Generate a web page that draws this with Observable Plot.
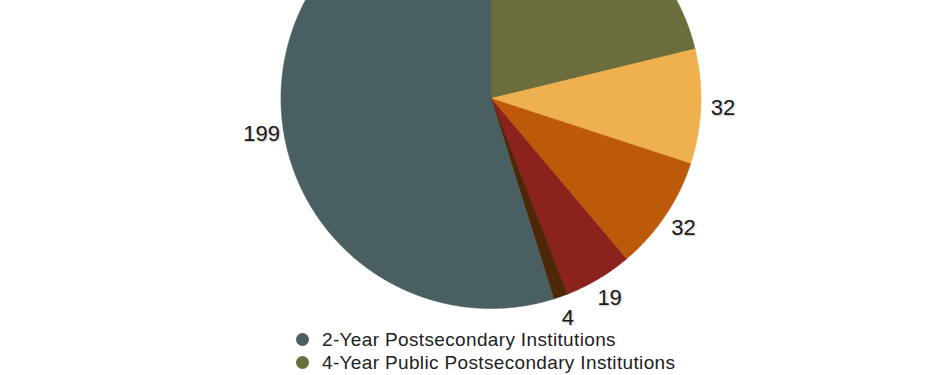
<!DOCTYPE html>
<html>
<head>
<meta charset="utf-8">
<script src="https://cdn.jsdelivr.net/npm/d3@7"></script>
<script src="https://cdn.jsdelivr.net/npm/@observablehq/plot@0.6"></script>
<style>
  html, body { margin: 0; padding: 0; background: #fff; }
  body { width: 930px; height: 375px; overflow: hidden; font-family: "Liberation Sans", Arial, Helvetica, sans-serif; }
  #chart svg { display: block; overflow: visible; }
  #chart svg text.lbl { text-shadow: 1px 1px 2px rgba(0,0,0,0.25); }
  #legend { margin-left: 296px; margin-top: -4px; position: relative; }
  .item { display: flex; align-items: center; height: 23px; font-size: 19px; letter-spacing: 0.35px; color: #222; }
  .dot { width: 13px; height: 13px; border-radius: 50%; margin-right: 13px; flex: none; }
</style>
</head>
<body>
<div id="chart"></div>
<div id="legend"></div>
<script>
// Data (clockwise from 12 o'clock)
const categories = [
  "4-Year Public Postsecondary Institutions",
  "4-Year Private Postsecondary Institutions",
  "Other Postsecondary Institutions",
  "Adult Education Providers",
  "Other Providers",
  "2-Year Postsecondary Institutions"
];
const values = [77, 32, 32, 19, 4, 199];
const colors = ["#6b6e3c", "#efb04e", "#bd5a0a", "#8b221c", "#4e2608", "#4a5f61"];
const legendOrder = [5, 0, 1, 2, 3, 4];

// Build slice polygons in unit-circle data space
const total = d3.sum(values);
let acc = 0;
const polys = [];
const labels = [];
values.forEach((v, i) => {
  const a0 = acc / total * 2 * Math.PI;
  acc += v;
  const a1 = acc / total * 2 * Math.PI;
  polys.push({cat: categories[i], color: colors[i], x: 0, y: 0});
  const n = Math.max(2, Math.ceil((a1 - a0) / (Math.PI / 360)));
  for (let k = 0; k <= n; k++) {
    const a = a0 + (a1 - a0) * k / n;
    polys.push({cat: categories[i], color: colors[i], x: Math.sin(a), y: Math.cos(a)});
  }
  const am = (a0 + a1) / 2, rl = 1.105;
  labels.push({x: rl * Math.sin(am), y: rl * Math.cos(am), v});
});

const chart = Plot.plot({
  width: 930,
  height: 332,
  margin: 0,
  x: {domain: [-1, 1], range: [280.5, 700.5], axis: null},
  y: {domain: [-1, 1], range: [308, -112], axis: null},
  color: {type: "identity"},
  style: {fontFamily: "'Liberation Sans', Arial, sans-serif", background: "#fff", overflow: "visible"},
  marks: [
    Plot.line(polys, {x: "x", y: "y", z: "cat", fill: "color", stroke: "color", strokeWidth: 0.6, curve: "linear-closed"}),
    Plot.text(labels, {x: "x", y: "y", text: "v", fontSize: 22, fill: "#1a1a1a"})
  ]
});
chart.querySelectorAll("g[aria-label='text'] text").forEach(t => t.classList.add("lbl"));
document.getElementById("chart").appendChild(chart);

const leg = document.getElementById("legend");
legendOrder.forEach(i => {
  const it = document.createElement("div");
  it.className = "item";
  const dot = document.createElement("span");
  dot.className = "dot";
  dot.style.background = colors[i];
  const tx = document.createElement("span");
  tx.textContent = categories[i];
  it.appendChild(dot); it.appendChild(tx);
  leg.appendChild(it);
});
</script>
</body>
</html>
